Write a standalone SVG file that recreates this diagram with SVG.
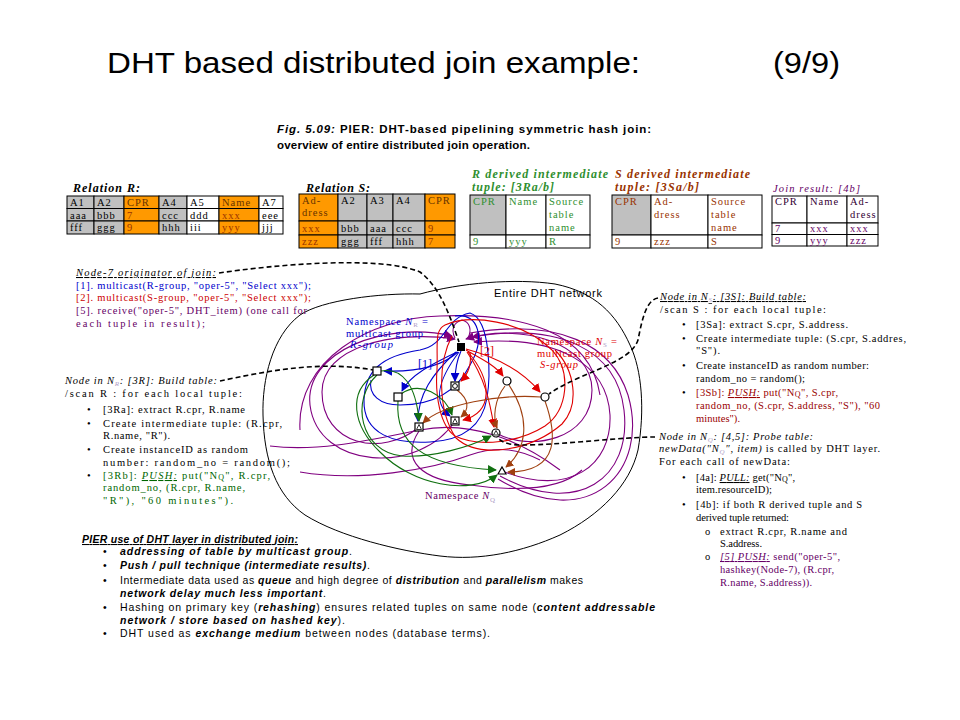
<svg xmlns="http://www.w3.org/2000/svg" width="960" height="720" viewBox="0 0 960 720">
<style>
svg{font-size:10.5px;}
text{font-family:"Liberation Serif","Times New Roman",serif;}
.sans{font-family:"Liberation Sans",Arial,sans-serif;}
.c{stroke:#000;stroke-width:1;}
.g{fill:#c0c0c0}.o{fill:#ff9900}.w{fill:#fff}
.tc{font-size:10.5px;letter-spacing:1px;}
.bi{font-weight:bold;font-style:italic;}
.sub{font-size:7px;fill:#b0a0c8;}
.pl{fill:none;stroke:#800080;stroke-width:1.1;}
.bl{fill:none;stroke:#0000cc;stroke-width:1.1;}
.rd{fill:none;stroke:#e00000;stroke-width:1.1;}
.gr{fill:none;stroke:#107010;stroke-width:1.1;}
.br{fill:none;stroke:#a04010;stroke-width:1.1;}
.dash{fill:none;stroke:#000;stroke-width:1.6;stroke-dasharray:5 3;}
.nd{fill:#fff;stroke:#000;stroke-width:1.2;}
</style>
<defs>
<marker id="mb" viewBox="0 0 10 10" refX="9" refY="5" markerWidth="9" markerHeight="9" markerUnits="userSpaceOnUse" orient="auto"><path d="M0,0 L10,5 L0,10 z" fill="#0000cc"/></marker>
<marker id="mr" viewBox="0 0 10 10" refX="9" refY="5" markerWidth="9" markerHeight="9" markerUnits="userSpaceOnUse" orient="auto"><path d="M0,0 L10,5 L0,10 z" fill="#e00000"/></marker>
<marker id="mg" viewBox="0 0 10 10" refX="9" refY="5" markerWidth="9" markerHeight="9" markerUnits="userSpaceOnUse" orient="auto"><path d="M0,0 L10,5 L0,10 z" fill="#107010"/></marker>
<marker id="mn" viewBox="0 0 10 10" refX="9" refY="5" markerWidth="8" markerHeight="8" markerUnits="userSpaceOnUse" orient="auto"><path d="M0,0 L10,5 L0,10 z" fill="#a04010"/></marker>
<marker id="mp" viewBox="0 0 10 10" refX="9" refY="5" markerWidth="9" markerHeight="9" markerUnits="userSpaceOnUse" orient="auto"><path d="M0,0 L10,5 L0,10 z" fill="#800080"/></marker>
</defs>
<rect width="960" height="720" fill="#fff"/>

<g id="title">
<text class="sans" x="107" y="73" font-size="29" textLength="533" lengthAdjust="spacingAndGlyphs">DHT based distributed join example:</text>
<text class="sans" x="773" y="73" font-size="29" textLength="67" lengthAdjust="spacingAndGlyphs">(9/9)</text>
</g>

<g id="caption">
<text class="sans" x="277" y="133" font-size="11.5" font-weight="bold" textLength="374"><tspan font-style="italic">Fig. 5.09:</tspan> PIER: DHT-based pipelining symmetric hash join:</text>
<text class="sans" x="277" y="149" font-size="11.5" font-weight="bold" textLength="253">overview of entire distributed join operation.</text>
</g>

<g id="relationR">
<text x="73" y="192" class="bi" font-size="12" textLength="67">Relation R:</text>
<rect class="c g" x="67" y="196" width="27" height="12.5"/><rect class="c g" x="94" y="196" width="30" height="12.5"/><rect class="c o" x="124" y="196" width="35" height="12.5"/><rect class="c g" x="159" y="196" width="28" height="12.5"/><rect class="c w" x="187" y="196" width="32" height="12.5"/><rect class="c o" x="219" y="196" width="40" height="12.5"/><rect class="c w" x="259" y="196" width="24" height="12.5"/>
<rect class="c g" x="67" y="208.5" width="27" height="12.5"/><rect class="c g" x="94" y="208.5" width="30" height="12.5"/><rect class="c o" x="124" y="208.5" width="35" height="12.5"/><rect class="c g" x="159" y="208.5" width="28" height="12.5"/><rect class="c w" x="187" y="208.5" width="32" height="12.5"/><rect class="c o" x="219" y="208.5" width="40" height="12.5"/><rect class="c w" x="259" y="208.5" width="24" height="12.5"/>
<rect class="c g" x="67" y="221" width="27" height="13"/><rect class="c g" x="94" y="221" width="30" height="13"/><rect class="c o" x="124" y="221" width="35" height="13"/><rect class="c g" x="159" y="221" width="28" height="13"/><rect class="c w" x="187" y="221" width="32" height="13"/><rect class="c o" x="219" y="221" width="40" height="13"/><rect class="c w" x="259" y="221" width="24" height="13"/>
<text class="tc" x="70" y="206">A1</text><text class="tc" x="97" y="206">A2</text><text class="tc" x="127" y="206" fill="#663300">CPR</text><text class="tc" x="162" y="206">A4</text><text class="tc" x="190" y="206">A5</text><text class="tc" x="222" y="206" fill="#663300">Name</text><text class="tc" x="262" y="206">A7</text>
<text class="tc" x="70" y="218.5">aaa</text><text class="tc" x="97" y="218.5">bbb</text><text class="tc" x="127" y="218.5" fill="#993300">7</text><text class="tc" x="162" y="218.5">ccc</text><text class="tc" x="190" y="218.5">ddd</text><text class="tc" x="222" y="218.5" fill="#993300">xxx</text><text class="tc" x="262" y="218.5">eee</text>
<text class="tc" x="70" y="231">fff</text><text class="tc" x="97" y="231">ggg</text><text class="tc" x="127" y="231" fill="#993300">9</text><text class="tc" x="162" y="231">hhh</text><text class="tc" x="190" y="231">iii</text><text class="tc" x="222" y="231" fill="#993300">yyy</text><text class="tc" x="262" y="231">jjj</text>
</g>

<g id="relationS">
<text x="306" y="192" class="bi" font-size="12" textLength="64">Relation S:</text>
<rect class="c o" x="299" y="194" width="39" height="27"/><rect class="c g" x="338" y="194" width="29" height="27"/><rect class="c g" x="367" y="194" width="26" height="27"/><rect class="c g" x="393" y="194" width="32" height="27"/><rect class="c o" x="425" y="194" width="30" height="27"/>
<rect class="c o" x="299" y="221" width="39" height="14"/><rect class="c g" x="338" y="221" width="29" height="14"/><rect class="c g" x="367" y="221" width="26" height="14"/><rect class="c g" x="393" y="221" width="32" height="14"/><rect class="c o" x="425" y="221" width="30" height="14"/>
<rect class="c o" x="299" y="235" width="39" height="13"/><rect class="c g" x="338" y="235" width="29" height="13"/><rect class="c g" x="367" y="235" width="26" height="13"/><rect class="c g" x="393" y="235" width="32" height="13"/><rect class="c o" x="425" y="235" width="30" height="13"/>
<text class="tc" x="302" y="204" fill="#663300">Ad-</text><text class="tc" x="302" y="216" fill="#663300">dress</text><text class="tc" x="341" y="204">A2</text><text class="tc" x="370" y="204">A3</text><text class="tc" x="396" y="204">A4</text><text class="tc" x="428" y="204" fill="#663300">CPR</text>
<text class="tc" x="302" y="232" fill="#993300">xxx</text><text class="tc" x="341" y="232">bbb</text><text class="tc" x="370" y="232">aaa</text><text class="tc" x="396" y="232">ccc</text><text class="tc" x="428" y="232" fill="#993300">9</text>
<text class="tc" x="302" y="245" fill="#993300">zzz</text><text class="tc" x="341" y="245">ggg</text><text class="tc" x="370" y="245">fff</text><text class="tc" x="396" y="245">hhh</text><text class="tc" x="428" y="245" fill="#993300">7</text>
</g>

<g id="rDerived">
<text x="472" y="178" class="bi" font-size="12" fill="#2f8f2f" textLength="136">R derived intermediate</text>
<text x="472" y="191" class="bi" font-size="12" fill="#2f8f2f" textLength="82">tuple: [3Ra/b]</text>
<rect class="c g" x="470" y="195" width="36" height="40"/><rect class="c w" x="506" y="195" width="40" height="40"/><rect class="c w" x="546" y="195" width="44" height="40"/>
<rect class="c w" x="470" y="235" width="36" height="13"/><rect class="c w" x="506" y="235" width="40" height="13"/><rect class="c w" x="546" y="235" width="44" height="13"/>
<text class="tc" x="473" y="205" fill="#2f8f2f">CPR</text><text class="tc" x="509" y="205" fill="#2f8f2f">Name</text><text class="tc" x="549" y="205" fill="#2f8f2f">Source</text><text class="tc" x="549" y="218" fill="#2f8f2f">table</text><text class="tc" x="549" y="231" fill="#2f8f2f">name</text>
<text class="tc" x="473" y="245" fill="#2f8f2f">9</text><text class="tc" x="509" y="245" fill="#2f8f2f">yyy</text><text class="tc" x="549" y="245" fill="#2f8f2f">R</text>
</g>

<g id="sDerived">
<text x="615" y="178" class="bi" font-size="12" fill="#993300" textLength="135">S derived intermediate</text>
<text x="615" y="191" class="bi" font-size="12" fill="#993300" textLength="84">tuple: [3Sa/b]</text>
<rect class="c g" x="612" y="195" width="39" height="40"/><rect class="c w" x="651" y="195" width="57" height="40"/><rect class="c w" x="708" y="195" width="54" height="40"/>
<rect class="c w" x="612" y="235" width="39" height="13"/><rect class="c w" x="651" y="235" width="57" height="13"/><rect class="c w" x="708" y="235" width="54" height="13"/>
<text class="tc" x="615" y="205" fill="#993300">CPR</text><text class="tc" x="654" y="205" fill="#993300">Ad-</text><text class="tc" x="654" y="218" fill="#993300">dress</text><text class="tc" x="711" y="205" fill="#993300">Source</text><text class="tc" x="711" y="218" fill="#993300">table</text><text class="tc" x="711" y="231" fill="#993300">name</text>
<text class="tc" x="615" y="245" fill="#993300">9</text><text class="tc" x="654" y="245" fill="#993300">zzz</text><text class="tc" x="711" y="245" fill="#993300">S</text>
</g>

<g id="joinResult">
<text x="773" y="192" font-style="italic" font-size="10.5" fill="#660066" textLength="87">Join result: [4b]</text>
<rect class="c w" x="772" y="196" width="35" height="27"/><rect class="c w" x="807" y="196" width="40" height="27"/><rect class="c w" x="847" y="196" width="31" height="27"/>
<rect class="c w" x="772" y="223" width="35" height="11.5"/><rect class="c w" x="807" y="223" width="40" height="11.5"/><rect class="c w" x="847" y="223" width="31" height="11.5"/>
<rect class="c w" x="772" y="234.5" width="35" height="11.5"/><rect class="c w" x="807" y="234.5" width="40" height="11.5"/><rect class="c w" x="847" y="234.5" width="31" height="11.5"/>
<text class="tc" x="775" y="205" fill="#330033">CPR</text><text class="tc" x="810" y="205" fill="#330033">Name</text><text class="tc" x="850" y="205" fill="#330033">Ad-</text><text class="tc" x="850" y="218" fill="#330033">dress</text>
<text class="tc" x="775" y="232" fill="#660066">7</text><text class="tc" x="810" y="232" fill="#660066">xxx</text><text class="tc" x="850" y="232" fill="#660066">xxx</text>
<text class="tc" x="775" y="244" fill="#660066">9</text><text class="tc" x="810" y="244" fill="#660066">yyy</text><text class="tc" x="850" y="244" fill="#660066">zzz</text>
</g>

<g id="network">
<path d="M420,294 C380,293 322,300 300,315 C272,336 262,380 263,415 C264,460 276,495 305,515 C340,537 400,551 440,556 C480,561 522,552 560,535 C600,515 630,485 638,450 C645,410 642,370 630,345 C616,314 595,292 555,284 C515,278 460,283 420,294 Z" fill="none" stroke="#000" stroke-width="1"/>
<text class="sans" x="494" y="297" font-size="11" textLength="108">Entire DHT network</text>
</g>

<g id="connectors">
<path class="pl" d="M502,471 C570,498 612,465 610,415 C607,365 560,335 474,342" marker-end="url(#mp)"/>
<path class="pl" d="M500,476 C578,518 632,478 624,410 C617,350 560,322 472,337" marker-end="url(#mp)"/>
<path class="pl" d="M498,479 C590,535 650,470 628,395 C612,345 560,318 470,333"/>
<path class="pl" d="M455,421 C420,475 318,470 310,405 C304,352 385,320 452,336" marker-end="url(#mp)"/>
<path class="pl" d="M419,427 C382,458 322,445 322,392 C322,347 392,330 455,339" marker-end="url(#mp)"/>
<path class="pl" d="M496,433 C530,452 592,440 592,390 C592,343 520,322 466,339" marker-end="url(#mp)"/>
<path class="pl" d="M300,430 C296,360 370,318 440,316 C520,313 590,330 600,395"/>
<path class="pl" d="M270,446 C320,452 370,440 420,430 C470,420 520,440 560,470"/>
<path class="pl" d="M300,472 C360,482 430,470 470,455 C500,445 520,450 540,460"/>
<path class="pl" d="M419,431 C400,460 420,480 470,485 C520,492 560,490 582,470"/>
<path class="pl" d="M455,338 C450,328 455,322 462,320 C470,322 472,330 468,338"/>
<path class="bl" d="M470,313 C492,320 490,380 487,398 C483,422 468,440 430,442 C395,444 363,435 364,400 C365,372 380,356 420,350 C447,345 444,318 470,313 Z"/>
<path class="bl" d="M455,316 C480,312 485,340 470,365 C455,395 430,405 400,405 C380,405 368,395 371,380"/>
<path class="bl" d="M458,352 C440,368 410,372 384,371" marker-end="url(#mb)"/>
<path class="bl" d="M457,352 C432,364 410,375 402,391" marker-end="url(#mb)"/>
<path class="bl" d="M461,351 C457,360 455,370 455,381" marker-end="url(#mb)"/>
<path class="bl" d="M456,352 C432,374 418,395 418,421" marker-end="url(#mb)"/>
<path class="bl" d="M459,352 C438,380 432,402 450,416" marker-end="url(#mb)"/>
<path class="rd" d="M445,325 C470,314 522,320 552,350 C572,372 568,410 545,426 C520,442 480,448 455,436 C440,426 435,395 437,370 C438,346 434,330 445,325 Z"/>
<path class="rd" d="M452,336 C438,362 437,410 456,438 C480,460 532,450 562,424 C580,405 575,370 555,350"/>
<path class="rd" d="M466,350 C480,358 495,365 503,376" marker-end="url(#mr)"/>
<path class="rd" d="M466,349 C500,358 525,374 540,392" marker-end="url(#mr)"/>
<path class="rd" d="M470,352 C472,365 468,374 461,381" marker-end="url(#mr)"/>
<path class="rd" d="M468,352 C492,380 494,412 463,420" marker-end="url(#mr)"/>
<path class="rd" d="M467,352 C485,378 490,402 494,427" marker-end="url(#mr)"/>
<path class="gr" d="M381,371 C402,367 416,385 419,421" marker-end="url(#mg)"/>
<path class="gr" d="M401,394 C420,380 445,395 452,415" marker-end="url(#mg)"/>
<path class="gr" d="M377,375 C350,400 360,452 402,456 C432,458 470,447 491,436" marker-end="url(#mg)"/>
<path class="gr" d="M398,401 C395,442 420,466 496,470" marker-end="url(#mg)"/>
<path class="gr" d="M374,375 C348,392 352,425 380,452 C412,485 470,496 497,475" marker-end="url(#mg)"/>
<path class="br" d="M541,397 C500,394 442,404 423,423" marker-end="url(#mn)"/>
<path class="br" d="M457,390 C470,400 469,410 461,417" marker-end="url(#mn)"/>
<path class="br" d="M505,386 C494,400 493,418 497,428" marker-end="url(#mn)"/>
<path class="br" d="M545,401 C556,432 562,472 508,472" marker-end="url(#mn)"/>
<path class="br" d="M509,385 C532,420 526,450 506,467" marker-end="url(#mn)"/>
<path class="dash" d="M219,273 C272,265 380,255 420,272 C440,287 450,316 459,342"/>
<path class="dash" d="M220,381 C262,372 320,360 373,370"/>
<path class="dash" d="M658,298 C646,300 642,320 638,340 C630,364 580,372 549,394"/>
<path class="dash" d="M655,437 C620,437 562,445 522,445 C506,445 500,441 497,437"/>
</g>

<g id="nodes">
<rect x="457" y="343" width="8" height="8" fill="#000"/>
<rect class="nd" x="373" y="367" width="8" height="8"/>
<rect class="nd" x="394" y="393" width="8" height="8"/>
<g id="nodeSqCircle"><rect class="nd" x="451" y="382" width="8" height="8" stroke-width="1.6"/><circle cx="455" cy="386" r="2.4" fill="none" stroke="#000"/></g>
<circle class="nd" cx="507" cy="381" r="4"/>
<circle class="nd" cx="545" cy="397" r="4"/>
<g id="nodeSqTri1"><rect class="nd" x="415" y="423" width="8" height="8" stroke-width="1.6"/><path d="M416.5,429.5 L419,424.5 L421.5,429.5 Z" fill="none" stroke="#000" stroke-width="0.8"/></g>
<g id="nodeSqTri2"><rect class="nd" x="451" y="417" width="8" height="8" stroke-width="1.6"/><path d="M452.5,423.5 L455,418.5 L457.5,423.5 Z" fill="none" stroke="#000" stroke-width="0.8"/></g>
<g id="nodeCircTri"><circle class="nd" cx="496" cy="433" r="4" stroke-width="1.5"/><path d="M493.5,435 L496,430.5 L498.5,435 Z" fill="none" stroke="#000" stroke-width="0.8"/></g>
<path class="nd" d="M498,474 L502,467 L506,474 Z"/>
</g>

<g id="labels">
<text x="346" y="325" fill="#0000cc" textLength="82">Namespace <tspan font-style="italic">N</tspan><tspan class="sub" dy="2">R</tspan><tspan dy="-2"> =</tspan></text>
<text x="346" y="337" fill="#0000cc" textLength="77">multicast group</text>
<text x="350" y="348" fill="#0000cc" font-style="italic" textLength="43">R-group</text>
<text x="537" y="345" fill="#e00000" textLength="80">Namespace <tspan font-style="italic">N</tspan><tspan class="sub" dy="2">S</tspan><tspan dy="-2"> =</tspan></text>
<text x="537" y="357" fill="#e00000" textLength="75">multicast group</text>
<text x="540" y="368" fill="#e00000" font-style="italic" textLength="38">S-group</text>
<text x="418" y="368" fill="#0000cc" font-size="12">[1]</text>
<text x="480" y="355" fill="#e00000" font-size="12">[2]</text>
<text x="425" y="499" fill="#660066" textLength="70">Namespace <tspan font-style="italic">N</tspan><tspan class="sub" dy="3">Q</tspan></text>
</g>

<g id="node7Text">
<text x="76" y="276" font-style="italic" text-decoration="underline" textLength="140">Node-7 originator of join:</text>
<text x="76" y="289" fill="#0000cc" textLength="235">[1]. multicast(R-group, "oper-5", "Select xxx");</text>
<text x="76" y="301" fill="#cc0000" textLength="235">[2]. multicast(S-group, "oper-5", "Select xxx");</text>
<text x="76" y="314" fill="#660066" textLength="231">[5]. receive("oper-5", DHT_item) (one call for</text>
<text x="76" y="327" fill="#660066" textLength="129">each tuple in result);</text>
</g>

<g id="nodeNRText">
<text x="65" y="384" font-style="italic" textLength="152">Node in N<tspan class="sub" dy="2">R</tspan><tspan dy="-2">: [3R]: Build table:</tspan></text>
<text x="65" y="397" textLength="177">/scan R : for each local tuple:</text>
<text x="87" y="413">•</text><text x="87" y="427">•</text><text x="87" y="453">•</text><text x="87" y="479">•</text>
<text x="103" y="413" textLength="142">[3Ra]: extract R.cpr, R.name</text>
<text x="103" y="427" textLength="179">Create intermediate tuple: (R.cpr,</text>
<text x="103" y="439" textLength="67">R.name, "R").</text>
<text x="103" y="453" textLength="145">Create instanceID as random</text>
<text x="103" y="466" textLength="187">number: random_no = random();</text>
<text x="103" y="479" fill="#006600" textLength="167">[3Rb]: <tspan font-style="italic" text-decoration="underline">PUSH:</tspan> put("N<tspan font-size="8" dy="1">Q</tspan><tspan dy="-1">", R.cpr,</tspan></text>
<text x="103" y="491" fill="#006600" textLength="142">random_no, (R.cpr, R.name,</text>
<text x="103" y="504" fill="#006600" textLength="130">"R"), "60 minutes").</text>
</g>

<g id="nodeNSText">
<text x="660" y="300" font-style="italic" text-decoration="underline" textLength="146">Node in N<tspan class="sub" dy="2">S</tspan><tspan dy="-2">: [3S]: Build table:</tspan></text>
<text x="660" y="313" textLength="166">/scan S : for each local tuple:</text>
<text x="682" y="328">•</text><text x="682" y="342">•</text><text x="682" y="369">•</text><text x="682" y="396">•</text>
<text x="696" y="328" textLength="152">[3Sa]: extract S.cpr, S.address.</text>
<text x="696" y="342" textLength="210">Create intermediate tuple: (S.cpr, S.addres,</text>
<text x="696" y="354" textLength="24">"S").</text>
<text x="696" y="369" textLength="173">Create instanceID as random number:</text>
<text x="696" y="382" textLength="109">random_no = random();</text>
<text x="696" y="396" fill="#990000" textLength="142">[3Sb]: <tspan font-style="italic" text-decoration="underline">PUSH:</tspan> put("N<tspan font-size="8" dy="1">Q</tspan><tspan dy="-1">", S.cpr,</tspan></text>
<text x="696" y="409" fill="#990000" textLength="184">random_no, (S.cpr, S.address, "S"), "60</text>
<text x="696" y="422" fill="#990000" textLength="44">minutes").</text>
</g>

<g id="nodeNQText">
<text x="659" y="440" font-style="italic" textLength="154">Node in N<tspan class="sub" dy="2">Q</tspan><tspan dy="-2">: [4,5]: Probe table:</tspan></text>
<text x="659" y="452" textLength="221"><tspan font-style="italic">newData("N<tspan class="sub" dy="2">Q</tspan><tspan dy="-2">", item)</tspan></tspan> is called by DHT layer.</text>
<text x="659" y="465" textLength="131">For each call of newData:</text>
<text x="682" y="481">•</text><text x="682" y="508">•</text>
<text x="696" y="481" textLength="99">[4a]: <tspan font-style="italic" text-decoration="underline">PULL:</tspan> get("N<tspan font-size="8" dy="1">Q</tspan><tspan dy="-1">",</tspan></text>
<text x="696" y="493" textLength="76">item.resourceID);</text>
<text x="696" y="508" textLength="166">[4b]: if both R derived tuple and S</text>
<text x="696" y="521" textLength="93">derived tuple returned:</text>
<text x="705" y="535">o</text><text x="705" y="560">o</text>
<text x="720" y="535" textLength="127">extract R.cpr, R.name and</text>
<text x="720" y="547" textLength="42">S.address.</text>
<text x="720" y="560" fill="#660066" textLength="120"><tspan font-style="italic" text-decoration="underline">[5] PUSH:</tspan> send("oper-5",</text>
<text x="720" y="573" fill="#660066" textLength="114">hashkey(Node-7), (R.cpr,</text>
<text x="720" y="586" fill="#660066" textLength="92">R.name, S.address)).</text>
</g>

<g id="pierText">
<text class="sans bi" x="82" y="543" font-size="10.5" text-decoration="underline" textLength="216">PIER use of DHT layer in distributed join:</text>
<text class="sans" x="103" y="555">•</text><text class="sans" x="103" y="569">•</text><text class="sans" x="103" y="584">•</text><text class="sans" x="103" y="611">•</text><text class="sans" x="103" y="637">•</text>
<text class="sans" x="120" y="555" textLength="232"><tspan class="bi">addressing of table by multicast group</tspan>.</text>
<text class="sans" x="120" y="569" textLength="250"><tspan class="bi">Push / pull technique (intermediate results)</tspan>.</text>
<text class="sans" x="120" y="584" textLength="463">Intermediate data used as <tspan class="bi">queue</tspan> and high degree of <tspan class="bi">distribution</tspan> and <tspan class="bi">parallelism</tspan> makes</text>
<text class="sans" x="120" y="597" textLength="206"><tspan class="bi">network delay much less important</tspan>.</text>
<text class="sans" x="120" y="611" textLength="535">Hashing on primary key (<tspan class="bi">rehashing</tspan>) ensures related tuples on same node (<tspan class="bi">content addressable</tspan></text>
<text class="sans" x="120" y="624" textLength="225"><tspan class="bi">network / store based on hashed key</tspan>).</text>
<text class="sans" x="120" y="637" textLength="370">DHT used as <tspan class="bi">exchange medium</tspan> between nodes (database terms).</text>
</g>
</svg>
